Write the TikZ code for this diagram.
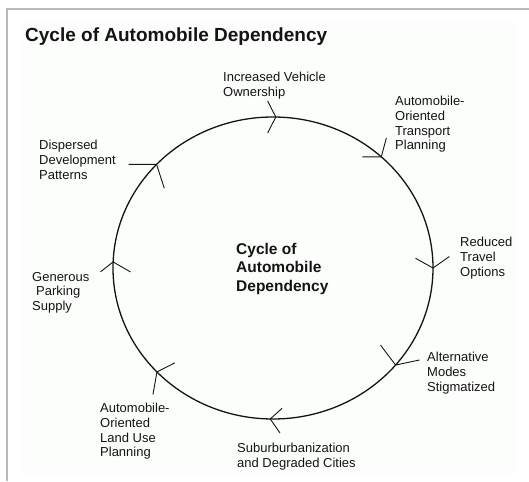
\documentclass[tikz,border=0pt]{standalone}
\usepackage{fontspec}
\setmainfont{Liberation Sans}
\usetikzlibrary{shapes.geometric,calc}
\definecolor{framegray}{RGB}{184,184,192}
\definecolor{innerbg}{RGB}{252,254,252}
\definecolor{ink}{RGB}{20,20,20}
\begin{document}
\begin{tikzpicture}[x=1pt,y=1pt,
  lbl/.style={anchor=north west, inner sep=0pt, align=left, text=ink, font=\fontsize{13}{14.7}\selectfont},
  chev/.style={line width=0.9pt, draw=ink, line join=miter},
  cyclering/.style={draw=ink, ellipse, minimum width=320pt, minimum height=302pt, inner sep=0pt, line width=1.3pt}]
\useasboundingbox (0,0) rectangle (529,481);
\fill[white] (0,0) rectangle (529,481);
\fill[innerbg] (22,7) rectangle (517,459);
\draw[framegray, line width=2pt] (6,472) -- (529,472);
\draw[framegray, line width=2pt] (7,0) -- (7,472);

\node[anchor=north west, inner sep=0pt, text=ink, font=\bfseries\fontsize{19}{22}\selectfont] (title) at (25,453) {Cycle of Automobile Dependency};

\node[cyclering] (cyc) at (273,213) {};

\foreach \t/\a/\la/\b/\lb in {89/117/18/243/18, 47.4/180/19/75/19.5, 0/151/20/35/20, -40/127/25/12/24.5, -91/42/16/-55/17, -136.5/27/20/-100/23, 177.7/-142/16/-30/20, 136.7/180/28/-72/25}{
  \draw[chev] ($(cyc.center)+(\t:160 and 151)$) coordinate (tip) ++(\a:\la) -- (tip) -- ++(\b:\lb);
}

\node[anchor=north west, inner sep=0pt, align=left, text=ink, font=\bfseries\fontsize{15.5}{18.5}\selectfont] (ctr) at (236,238) {Cycle of\\Automobile\\Dependency};

\node[lbl] (own) at (223,409) {Increased Vehicle\\Ownership};
\node[lbl] (trans) at (395,385) {Automobile-\\Oriented\\Transport\\Planning};
\node[lbl] (disp) at (39,341) {Dispersed\\Development\\Patterns};
\node[lbl] (park) at (32,209) {Generous\\\hspace*{4pt}Parking\\Supply};
\node[lbl] (red) at (460,244) {Reduced\\Travel\\Options};
\node[lbl] (alt) at (427,129) {Alternative\\Modes\\Stigmatized};
\node[lbl] (sub) at (237,38) {Suburburbanization\\and Degraded Cities};
\node[lbl] (land) at (100,78) {Automobile-\\Oriented\\Land Use\\Planning};
\end{tikzpicture}
\end{document}
